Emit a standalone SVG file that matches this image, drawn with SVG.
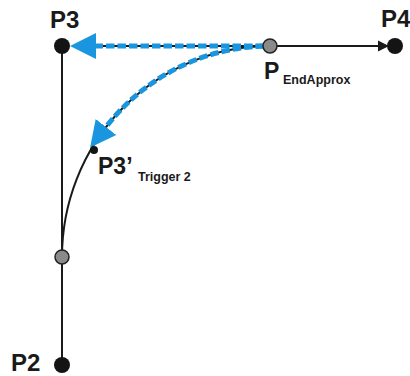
<svg xmlns="http://www.w3.org/2000/svg" width="410" height="376" viewBox="0 0 410 376">
  <style>
    .lbl { font-family: "Liberation Sans", Arial, sans-serif; font-weight: bold; fill: #1a1a1a; }
    .big { font-size: 24px; }
    .mid { font-size: 23px; }
    .sub { font-size: 12.5px; }
    .path { fill: none; stroke: #1a1a1a; stroke-width: 2; }
    .dash { fill: none; stroke: #1a96e0; stroke-width: 5; stroke-dasharray: 8.5 3; }
    .pt { fill: #141414; }
    .grey { fill: #8a8a8a; stroke: #222; stroke-width: 1.5; }
  </style>
  <defs>
    <marker id="blueArrow" markerUnits="userSpaceOnUse" markerWidth="26" markerHeight="28" viewBox="0 -13 25 26" refX="0" refY="0" orient="auto">
      <path d="M0,-12.5 L25,0 L0,12.5 z" fill="#1a96e0"/>
    </marker>
    <marker id="blackArrow" markerUnits="userSpaceOnUse" markerWidth="12" markerHeight="12" viewBox="0 -6 11 12" refX="0" refY="0" orient="auto">
      <path d="M0,-5.5 L11,0 L0,5.5 z" fill="#1a1a1a"/>
    </marker>
  </defs>

  <g id="connectors">
    <line class="path" x1="62" y1="46" x2="62" y2="364"/>
    <path class="path" d="M62,257 A208,211 0 0 1 270,46"/>
    <line class="path" x1="270" y1="46" x2="378" y2="46" marker-end="url(#blackArrow)"/>
    <line class="path" x1="270" y1="46" x2="96" y2="46"/>
    <line class="dash" x1="264" y1="46" x2="96" y2="46" marker-end="url(#blueArrow)"/>
    <path class="dash" d="M264,46.1 A208,211 0 0 0 106,127" marker-end="url(#blueArrow)"/>
  </g>

  <g id="P3">
    <circle class="pt" cx="62" cy="46" r="8"/>
    <text class="lbl big" x="50" y="28">P3</text>
  </g>
  <g id="P4">
    <circle class="pt" cx="395" cy="46" r="8"/>
    <text class="lbl big" x="381" y="27">P4</text>
  </g>
  <g id="P2">
    <circle class="pt" cx="62" cy="365" r="8"/>
    <text class="lbl big" x="11" y="371">P2</text>
  </g>
  <g id="PEndApprox">
    <circle class="grey" cx="270" cy="46" r="7"/>
    <text class="lbl" x="264" y="79"><tspan class="mid">P</tspan><tspan class="sub" x="283" y="84">EndApprox</tspan></text>
  </g>
  <g id="P3Trigger2">
    <circle class="pt" cx="94" cy="150" r="4"/>
    <text class="lbl" x="98" y="174"><tspan class="mid">P3’</tspan><tspan class="sub" x="138" y="181">Trigger 2</tspan></text>
  </g>
  <g id="Pgrey">
    <circle class="grey" cx="62" cy="257" r="7"/>
  </g>
</svg>
